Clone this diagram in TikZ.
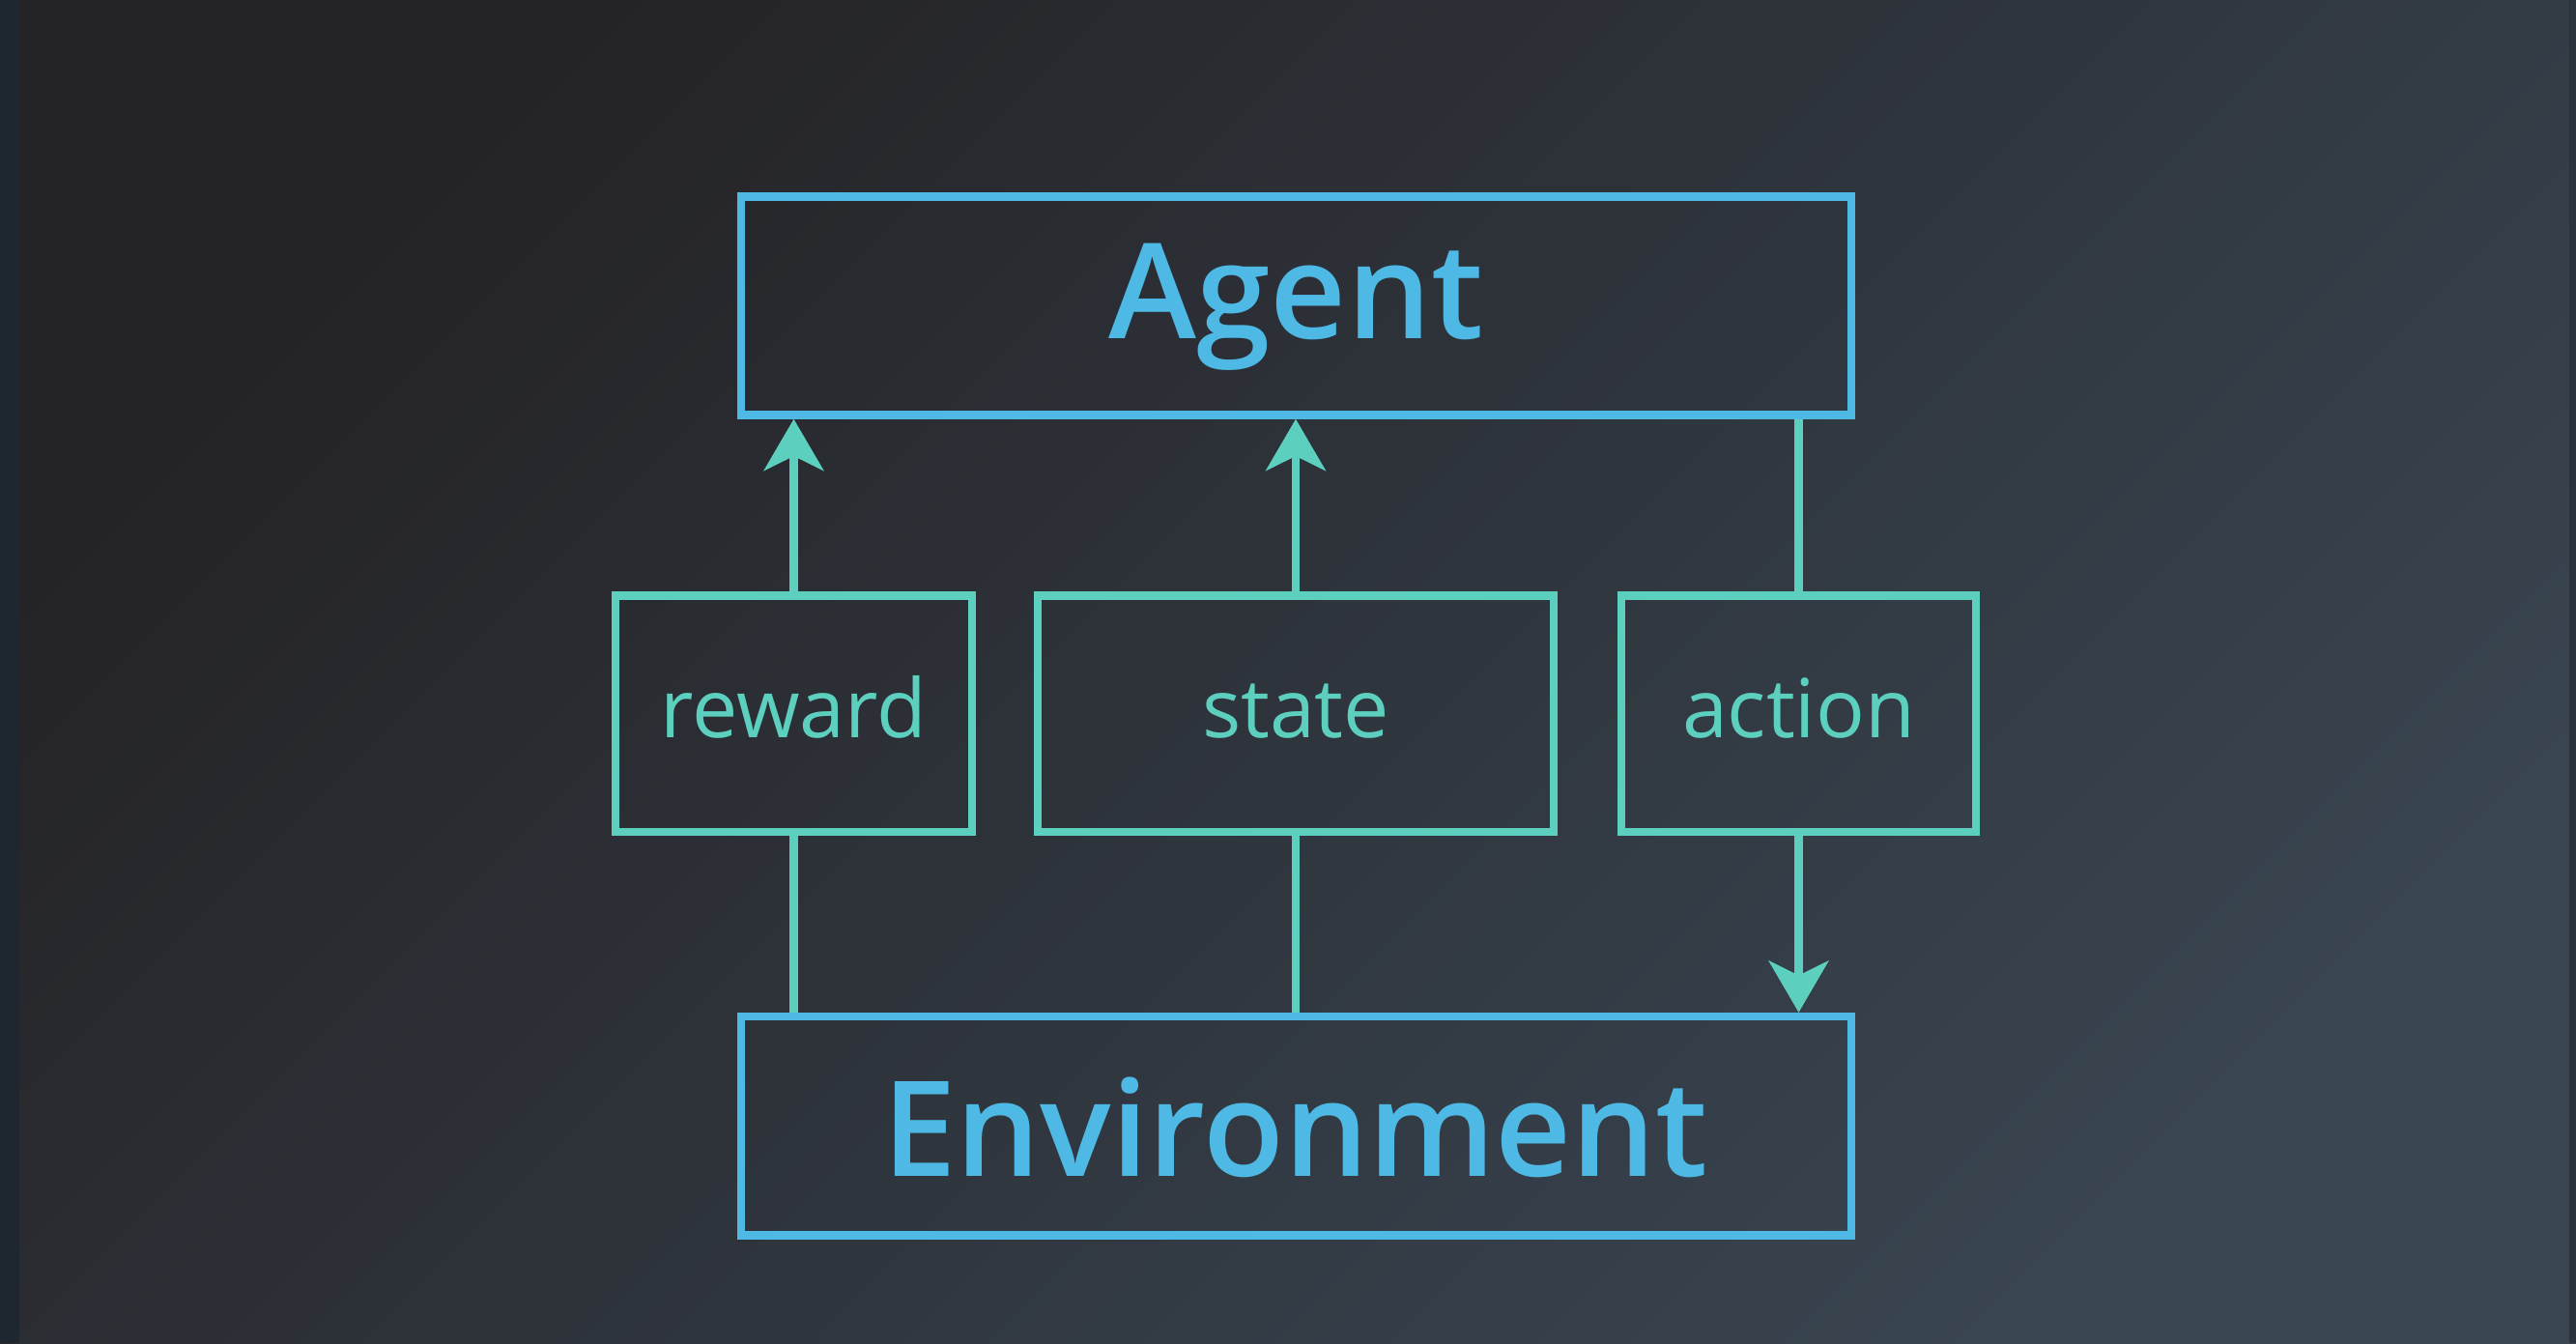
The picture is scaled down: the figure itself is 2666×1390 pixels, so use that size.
\documentclass[tikz,border=0pt]{standalone}
\usepackage{fontspec}
\setmainfont{Open Sans}
\newfontfamily\headfont{Open Sans}[UprightFont={* Semibold}]
\usetikzlibrary{arrows.meta}
\definecolor{bgA}{RGB}{36,35,38}
\definecolor{bgB}{RGB}{57,69,81}
\definecolor{stripL}{RGB}{30,39,47}
\definecolor{stripR}{RGB}{42,51,60}
\definecolor{agblue}{RGB}{78,185,229}
\definecolor{teal}{RGB}{92,207,190}
\tikzset{
  bigbox/.style={draw=agblue, line width=2.5pt, rectangle, inner sep=0pt, minimum width=344.85pt},
  smallbox/.style={draw=teal, line width=2.5pt, rectangle, inner sep=0pt, minimum height=73.35pt},
  bigtext/.style={text=agblue, font=\headfont\fontsize{41.2pt}{48pt}\selectfont, anchor=base, inner sep=0pt},
  smalltext/.style={text=teal, font=\fontsize{25.3pt}{30pt}\selectfont, anchor=base, inner sep=0pt},
  conn/.style={draw=teal, line width=2.5pt},
  arr/.style={conn, -{Stealth[length=16pt, width=18.5pt, inset=4.5pt]}}
}
\begin{document}
\begin{tikzpicture}[x=0.3pt, y=-0.3pt]
  \useasboundingbox (0,0) rectangle (2666,1390);
  \shade[shading=axis, top color=bgA, bottom color=bgB, shading angle=45] (0,0) rectangle (2666,1390);
  \fill[stripL] (0,0) rectangle (20,1390);
  \fill[stripR] (2659,0) rectangle (2666,1390);

  \node[bigbox, minimum height=67.8pt] (agent) at (1341.5,316.5) {};
  \node[bigbox, minimum height=67.95pt] (env) at (1341.5,1165.25) {};
  \node[smallbox, minimum width=110.7pt] (reward) at (821.5,738.75) {};
  \node[smallbox, minimum width=160.2pt] (state) at (1341,738.75) {};
  \node[smallbox, minimum width=110.1pt] (action) at (1861.5,738.75) {};

  \node[bigtext] (agentlabel) at (1341.5,350) {Agent};
  \node[bigtext] (envlabel) at (1340.5,1217) {Environment};
  \node[smalltext] (rewardlabel) at (821.5,763.5) {reward};
  \node[smalltext] (statelabel) at (1341,763.5) {state};
  \node[smalltext] (actionlabel) at (1861.5,763.5) {action};

  \draw[arr] (reward.north) -- (reward.north |- agent.south);
  \draw[arr] (state.north) -- (state.north |- agent.south);
  \draw[conn] (action.north) -- (action.north |- agent.south);
  \draw[conn] (reward.south) -- (reward.south |- env.north);
  \draw[conn] (state.south) -- (state.south |- env.north);
  \draw[arr] (action.south) -- (action.south |- env.north);
\end{tikzpicture}
\end{document}
